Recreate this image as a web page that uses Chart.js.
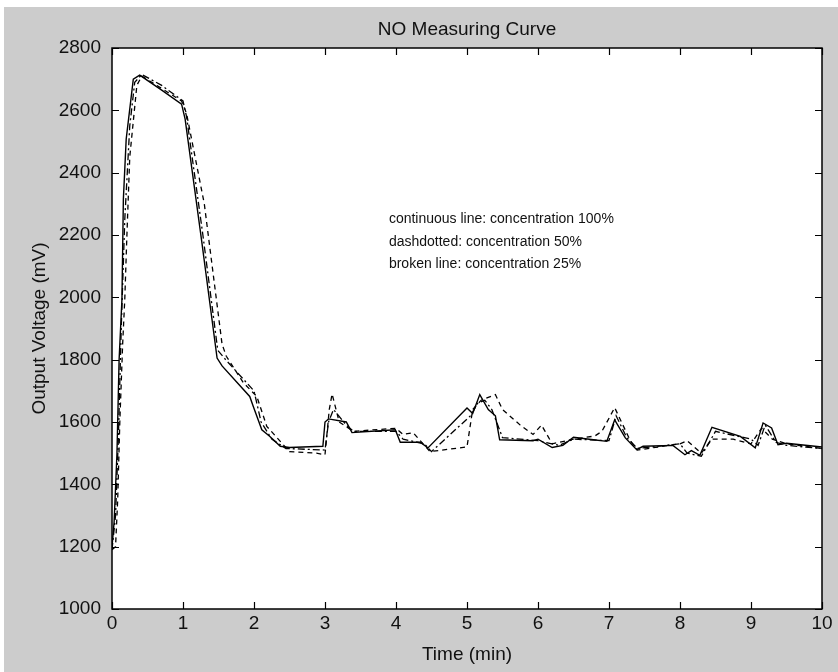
<!DOCTYPE html>
<html>
<head>
<meta charset="utf-8">
<script src="https://cdn.jsdelivr.net/npm/chart.js@4/dist/chart.umd.min.js"></script>
<style>
  html, body { margin: 0; padding: 0; background: #fff; }
</style>
</head>
<body>
<canvas id="noChart" width="838" height="672"></canvas>
<script>
// axis ticks
const timeTicks = [0, 1, 2, 3, 4, 5, 6, 7, 8, 9, 10];
const voltTicks = [1000, 1200, 1400, 1600, 1800, 2000, 2200, 2400, 2600, 2800];

// continuous line: concentration 100%
const time100 = [0, 0.03, 0.07, 0.1, 0.14, 0.16, 0.2, 0.3, 0.39, 0.7, 0.98, 1.03, 1.26, 1.48, 1.55, 1.94, 1.99, 2.11, 2.22, 2.37,
  2.5, 2.97, 3.0, 3.05, 3.3, 3.38, 3.99, 4.06, 4.34, 4.45, 5.0, 5.08, 5.18, 5.3, 5.4, 5.46, 5.93, 6.0, 6.2, 6.35,
  6.5, 6.78, 6.97, 7.08, 7.23, 7.39, 7.48, 7.9, 8.07, 8.16, 8.28, 8.45, 8.85, 9.06, 9.17, 9.29, 9.38, 9.5, 10];
const volt100 = [1200, 1280, 1500, 1800, 1993, 2315, 2508, 2700, 2713, 2665, 2620, 2572, 2186, 1805, 1780, 1682, 1650, 1575, 1554, 1522,
  1518, 1522, 1600, 1610, 1600, 1566, 1575, 1535, 1535, 1517, 1645, 1627, 1688, 1640, 1620, 1543, 1540, 1545, 1518, 1525,
  1551, 1543, 1538, 1607, 1549, 1511, 1522, 1525, 1495, 1508, 1493, 1583, 1554, 1517, 1597, 1581, 1527, 1532, 1520];

// dashdotted: concentration 50%
const time50 = [0, 0.05, 0.09, 0.13, 0.18, 0.25, 0.32, 0.42, 0.7, 1.0, 1.05, 1.28, 1.49, 1.6, 2.0, 2.1, 2.25, 2.45, 3.0, 3.05,
  3.12, 3.3, 3.4, 4.0, 4.1, 4.4, 4.5, 5.05, 5.15, 5.25, 5.35, 5.5, 6.0, 6.3, 6.5, 7.0, 7.1, 7.25, 7.4, 8.0,
  8.1, 8.3, 8.5, 9.0, 9.1, 9.2, 9.35, 9.5, 10];
const volt50 = [1190, 1300, 1550, 1900, 2250, 2550, 2690, 2715, 2680, 2630, 2580, 2200, 1830, 1800, 1700, 1600, 1545, 1515, 1510, 1600,
  1640, 1590, 1570, 1570, 1545, 1530, 1505, 1620, 1660, 1670, 1640, 1550, 1540, 1525, 1545, 1540, 1620, 1550, 1515, 1530,
  1500, 1490, 1570, 1545, 1525, 1590, 1535, 1525, 1515];

// broken line: concentration 25%
const time25 = [0, 0.05, 0.08, 0.11, 0.15, 0.18, 0.21, 0.25, 0.35, 0.42, 0.7, 0.98, 1.05, 1.3, 1.55, 1.61, 1.85, 2.04, 2.18, 2.5,
  2.88, 3.0, 3.06, 3.1, 3.2, 3.4, 4.0, 4.1, 4.24, 4.48, 5.0, 5.08, 5.2, 5.4, 5.5, 5.75, 5.93, 6.05, 6.1, 6.2,
  6.5, 6.8, 6.9, 7.08, 7.3, 7.4, 8.0, 8.1, 8.3, 8.45, 8.75, 9.0, 9.15, 9.3, 9.5, 10];
const volt25 = [1190, 1200, 1350, 1600, 1850, 1993, 2200, 2450, 2680, 2710, 2670, 2630, 2590, 2300, 1850, 1811, 1726, 1682, 1586, 1505,
  1500, 1495, 1640, 1690, 1600, 1570, 1580, 1560, 1566, 1505, 1520, 1640, 1670, 1688, 1640, 1590, 1560, 1590, 1570, 1530,
  1545, 1555, 1570, 1646, 1540, 1510, 1530, 1540, 1500, 1545, 1545, 1530, 1580, 1545, 1530, 1515];

const titleText = "NO Measuring Curve";
const noteLines = [
  "continuous line: concentration 100%",
  "dashdotted: concentration 50%",
  "broken line: concentration 25%"
];

const toPoints = (ts, vs) => ts.map((t, i) => ({ x: t, y: vs[i] }));

const FONT = "'Liberation Sans', Arial, sans-serif";

// matlab look: gray figure, white axes, box with inward ticks, title and text note
const matlabFrame = {
  id: "matlabFrame",
  beforeDraw(chart) {
    const { ctx, chartArea: a, width, height } = chart;
    ctx.save();
    ctx.fillStyle = "#ffffff";
    ctx.fillRect(0, 0, width, height);
    ctx.fillStyle = "#cccccc";
    ctx.fillRect(4, 7, width - 4, height - 7);
    ctx.fillStyle = "#ffffff";
    ctx.fillRect(a.left, a.top, a.right - a.left, a.bottom - a.top);
    ctx.restore();
  },
  afterDraw(chart) {
    const { ctx, chartArea: a, scales } = chart;
    const len = 7;
    ctx.save();
    ctx.strokeStyle = "#000";
    ctx.lineWidth = 1.2;
    ctx.beginPath();
    timeTicks.forEach(t => {
      const x = Math.round(scales.x.getPixelForValue(t)) + 0.5;
      ctx.moveTo(x, a.bottom); ctx.lineTo(x, a.bottom - len);
      ctx.moveTo(x, a.top); ctx.lineTo(x, a.top + len);
    });
    voltTicks.forEach(v => {
      const y = Math.round(scales.y.getPixelForValue(v)) + 0.5;
      ctx.moveTo(a.left, y); ctx.lineTo(a.left + len, y);
      ctx.moveTo(a.right, y); ctx.lineTo(a.right - len, y);
    });
    ctx.stroke();
    ctx.lineWidth = 1.5;
    ctx.strokeRect(a.left, a.top, a.right - a.left, a.bottom - a.top);

    ctx.fillStyle = "#111";
    ctx.textBaseline = "middle";
    ctx.textAlign = "center";
    ctx.font = "19px " + FONT;
    ctx.fillText(titleText, (a.left + a.right) / 2, 30);

    ctx.textAlign = "left";
    ctx.font = "14px " + FONT;
    const nx = scales.x.getPixelForValue(3.9);
    noteLines.forEach((s, i) => {
      ctx.fillText(s, nx, scales.y.getPixelForValue(2250 - i * 72));
    });
    ctx.restore();
  }
};

const lineStyle = {
  borderColor: "#000",
  borderWidth: 1.4,
  pointRadius: 0,
  tension: 0,
  fill: false
};

new Chart(document.getElementById("noChart"), {
  type: "line",
  data: {
    datasets: [
      { ...lineStyle, label: "100%", data: toPoints(time100, volt100) },
      { ...lineStyle, label: "50%", data: toPoints(time50, volt50), borderDash: [7, 3, 2, 3], borderWidth: 1.3 },
      { ...lineStyle, label: "25%", data: toPoints(time25, volt25), borderDash: [5, 4], borderWidth: 1.3 }
    ]
  },
  options: {
    responsive: false,
    animation: false,
    devicePixelRatio: 1,
    layout: { padding: { left: 0, right: 16, top: 48, bottom: 0 } },
    plugins: {
      legend: { display: false },
      tooltip: { enabled: false },
      title: { display: false }
    },
    scales: {
      x: {
        type: "linear",
        min: 0,
        max: 10,
        afterBuildTicks: s => { s.ticks = timeTicks.map(v => ({ value: v })); },
        afterFit: s => { s.height = 63; },
        grid: { display: false, drawTicks: false },
        border: { display: false },
        ticks: { color: "#111", font: { family: FONT, size: 19 }, padding: 3, maxRotation: 0, callback: v => String(v) },
        title: { display: true, text: "Time (min)", color: "#111", font: { family: FONT, size: 19 }, padding: { bottom: 6 } }
      },
      y: {
        type: "linear",
        min: 1000,
        max: 2800,
        afterBuildTicks: s => { s.ticks = voltTicks.map(v => ({ value: v })); },
        afterFit: s => { s.width = 112; },
        grid: { display: false, drawTicks: false },
        border: { display: false },
        ticks: { color: "#111", font: { family: FONT, size: 19 }, padding: 11, callback: v => String(v) },
        title: { display: true, text: "Output Voltage (mV)", color: "#111", font: { family: FONT, size: 19 }, padding: { top: 28 } }
      }
    }
  },
  plugins: [matlabFrame]
});
</script>
</body>
</html>
